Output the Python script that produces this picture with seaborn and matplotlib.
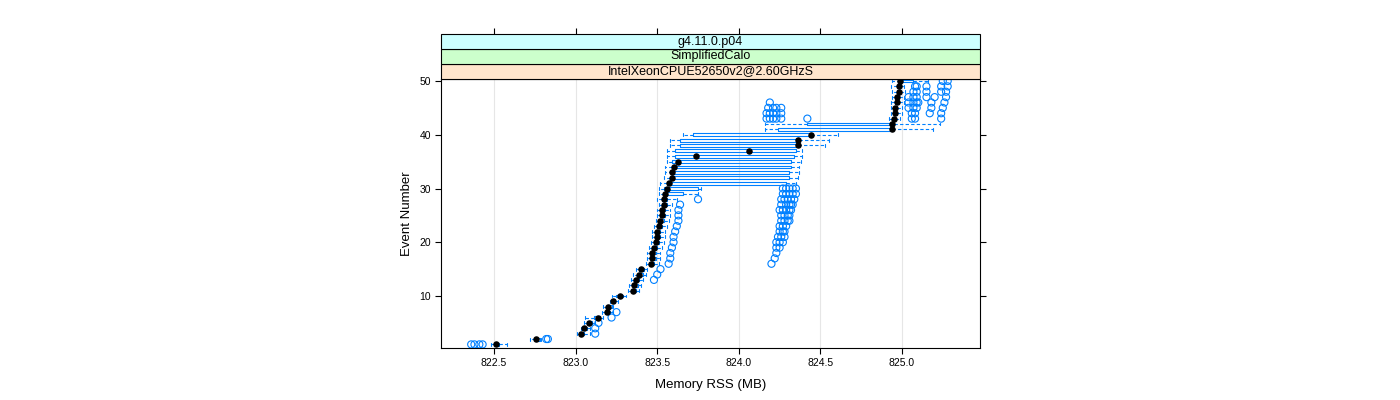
import matplotlib
matplotlib.use("Agg")
import matplotlib.pyplot as plt
from matplotlib.patches import Rectangle
import seaborn as sns
import pandas as pd

sns.set_style("white")
plt.rcParams['font.family'] = ['Liberation Sans', 'DejaVu Sans']
plt.rcParams['text.color'] = 'black'
plt.rcParams['axes.labelcolor'] = 'black'

# ---------------- data ----------------
events = list(range(1, 51))

medians = [822.51, 822.76, 823.03, 823.05, 823.08, 823.14, 823.19, 823.20, 823.23, 823.27,
           823.35, 823.36, 823.37, 823.39, 823.40, 823.46, 823.47, 823.47, 823.48, 823.49,
           823.50, 823.50, 823.51, 823.52, 823.53, 823.53, 823.54, 823.54, 823.55, 823.56,
           823.57, 823.59, 823.59, 823.60, 823.63, 823.74, 824.06, 824.36, 824.36, 824.44,
           824.94, 824.94, 824.95, 824.96, 824.96, 824.97, 824.97, 824.98, 824.98, 824.99]

q1 = [822.50, 822.75, 823.02, 823.04, 823.07, 823.11, 823.18, 823.19, 823.22, 823.25,
      823.34, 823.35, 823.36, 823.38, 823.39, 823.45, 823.46, 823.46, 823.47, 823.48,
      823.49, 823.49, 823.50, 823.51, 823.52, 823.52, 823.53, 823.53, 823.54, 823.54,
      823.56, 823.58, 823.59, 823.59, 823.59, 823.61, 823.61, 823.64, 823.64, 823.72,
      824.24, 824.42, 824.94, 824.95, 824.95, 824.96, 824.96, 824.97, 824.97, 824.99]

q3 = [822.53, 822.78, 823.05, 823.07, 823.10, 823.15, 823.21, 823.22, 823.24, 823.29,
      823.37, 823.38, 823.39, 823.41, 823.42, 823.48, 823.49, 823.49, 823.50, 823.51,
      823.52, 823.52, 823.53, 823.54, 823.55, 823.55, 823.56, 823.56, 823.66, 823.75,
      824.29, 824.31, 824.31, 824.32, 824.32, 824.34, 824.35, 824.36, 824.37, 824.44,
      824.94, 824.95, 824.96, 824.97, 824.97, 824.98, 824.98, 824.99, 824.99, 825.07]

whisker_low = [822.48, 822.72, 823.01, 823.03, 823.05, 823.06, 823.16, 823.17, 823.21, 823.22,
               823.32, 823.33, 823.34, 823.35, 823.37, 823.43, 823.44, 823.44, 823.45, 823.46,
               823.47, 823.47, 823.48, 823.49, 823.50, 823.50, 823.51, 823.50, 823.51, 823.51,
               823.52, 823.54, 823.55, 823.55, 823.56, 823.56, 823.56, 823.58, 823.58, 823.66,
               824.16, 824.16, 824.92, 824.93, 824.93, 824.93, 824.94, 824.94, 824.93, 824.94]

whisker_high = [822.58, 822.79, 823.09, 823.09, 823.12, 823.17, 823.23, 823.23, 823.26, 823.31,
                823.39, 823.40, 823.41, 823.43, 823.44, 823.51, 823.52, 823.52, 823.53, 823.54,
                823.55, 823.55, 823.56, 823.57, 823.58, 823.58, 823.59, 823.62, 823.75, 823.77,
                824.35, 824.36, 824.37, 824.37, 824.38, 824.39, 824.39, 824.53, 824.55, 824.61,
                825.19, 825.23, 824.99, 825.00, 825.00, 825.01, 825.01, 825.02, 825.01, 825.16]

outliers = [
    [822.36, 822.38, 822.41, 822.43],
    [822.82, 822.83],
    [823.12],
    [823.12],
    [823.14],
    [823.22],
    [823.25],
    [], [], [], [], [],
    [823.48],
    [823.50],
    [823.52],
    [823.57, 824.20],
    [823.58, 824.22],
    [823.58, 824.23],
    [823.59, 824.23, 824.25],
    [823.60, 824.23, 824.25, 824.27],
    [823.60, 824.24, 824.26, 824.28],
    [823.61, 824.25, 824.27, 824.28],
    [823.62, 824.25, 824.27, 824.29],
    [823.63, 824.26, 824.28, 824.30, 824.31],
    [823.63, 824.26, 824.28, 824.30, 824.31],
    [823.63, 824.25, 824.27, 824.29, 824.31, 824.32],
    [823.64, 824.26, 824.29, 824.31, 824.32, 824.33],
    [823.75, 824.26, 824.28, 824.30, 824.32, 824.34],
    [824.27, 824.29, 824.31, 824.33, 824.35],
    [824.27, 824.29, 824.31, 824.33, 824.35],
    [], [], [], [], [], [], [], [], [], [], [], [],
    [824.17, 824.19, 824.21, 824.23, 824.26, 824.42, 825.06, 825.08, 825.24],
    [824.17, 824.19, 824.21, 824.23, 824.26, 825.06, 825.08, 825.17, 825.24],
    [824.18, 824.21, 824.23, 824.26, 825.04, 825.07, 825.09, 825.18, 825.25],
    [824.19, 825.04, 825.07, 825.09, 825.10, 825.18, 825.26],
    [825.04, 825.07, 825.09, 825.15, 825.20, 825.27],
    [825.07, 825.09, 825.15, 825.24, 825.27],
    [825.08, 825.09, 825.15, 825.24, 825.28],
    [825.25, 825.28],
]

x_ticks = [822.5, 823.0, 823.5, 824.0, 824.5, 825.0]
y_ticks = [10, 20, 30, 40, 50]
strip_labels = ["IntelXeonCPUE52650v2@2.60GHzS", "SimplifiedCalo", "g4.11.0.p04"]
strip_colors = ["#ffe5cc", "#ccffcc", "#ccffff"]
x_label = "Memory RSS (MB)"
y_label = "Event Number"

# ---------------- figure ----------------
W, H = 1400, 400
fig = plt.figure(figsize=(14, 4), dpi=100)
L, R, T, B = 441, 980, 79, 348
ax = fig.add_axes([L / W, 1 - B / H, (R - L) / W, (B - T) / H])

blue = "#0080ff"
stats = []
for e, m, a, b, lo, hi, fl in zip(events, medians, q1, q3, whisker_low, whisker_high, outliers):
    stats.append(dict(med=m, q1=a, q3=b, whislo=lo, whishi=hi, fliers=fl, label=str(e)))

ax.bxp(stats, positions=events, widths=0.55, orientation='horizontal', showfliers=False,
       boxprops=dict(color=blue, lw=0.8),
       whiskerprops=dict(color=blue, lw=0.8, linestyle=(0, (3, 2))),
       capprops=dict(color=blue, lw=0.8),
       medianprops=dict(lw=0),
       capwidths=0.55, manage_ticks=False, zorder=3)

out_df = pd.DataFrame({
    "x": [v for fl in outliers for v in fl],
    "y": [e for e, fl in zip(events, outliers) for _ in fl],
})
ax.scatter(out_df["x"], out_df["y"], s=26, facecolors='none', edgecolors=blue,
           linewidths=0.8, zorder=4)

med_df = pd.DataFrame({"x": medians, "y": events})
sns.scatterplot(data=med_df, x="x", y="y", color="black", s=22, linewidth=0,
                ax=ax, zorder=5, legend=False)

ax.set_xlim(822.175, 825.478)
ax.set_ylim(0.33, 50.37)
ax.set_xticks(x_ticks)
ax.set_xticklabels([f"{t:.1f}" for t in x_ticks])
ax.set_yticks(y_ticks)
ax.grid(axis='x', color="#e6e6e6", lw=0.8, zorder=0)
ax.grid(axis='y', visible=False)
ax.set_axisbelow(True)
for s in ax.spines.values():
    s.set_color("black")
    s.set_linewidth(0.8)
    s.set_visible(True)
ax.tick_params(axis='both', direction='out', length=4, width=0.8, colors='black',
               labelsize=7.5, pad=3, bottom=True, left=True, right=True)
ax.set_xlabel(x_label, fontsize=9.5, labelpad=8)
ax.set_ylabel(y_label, fontsize=9.5, labelpad=5)

# strips
h = 15 / (B - T)
for i, (lab, col) in enumerate(zip(strip_labels, strip_colors)):
    ax.add_patch(Rectangle((0, 1 + i * h), 1, h, transform=ax.transAxes, clip_on=False,
                           facecolor=col, edgecolor="black", lw=0.8, zorder=6))
    ax.text(0.5, 1 + (i + 0.5) * h, lab, transform=ax.transAxes, ha='center', va='center',
            fontsize=9, zorder=7)

sec = ax.secondary_xaxis(1 + 3 * h)
sec.set_xticks(x_ticks)
sec.tick_params(direction='out', length=4, width=0.8, labeltop=False, colors='black')
for s in sec.spines.values():
    s.set_visible(False)

fig.savefig("out.png", dpi=100)
